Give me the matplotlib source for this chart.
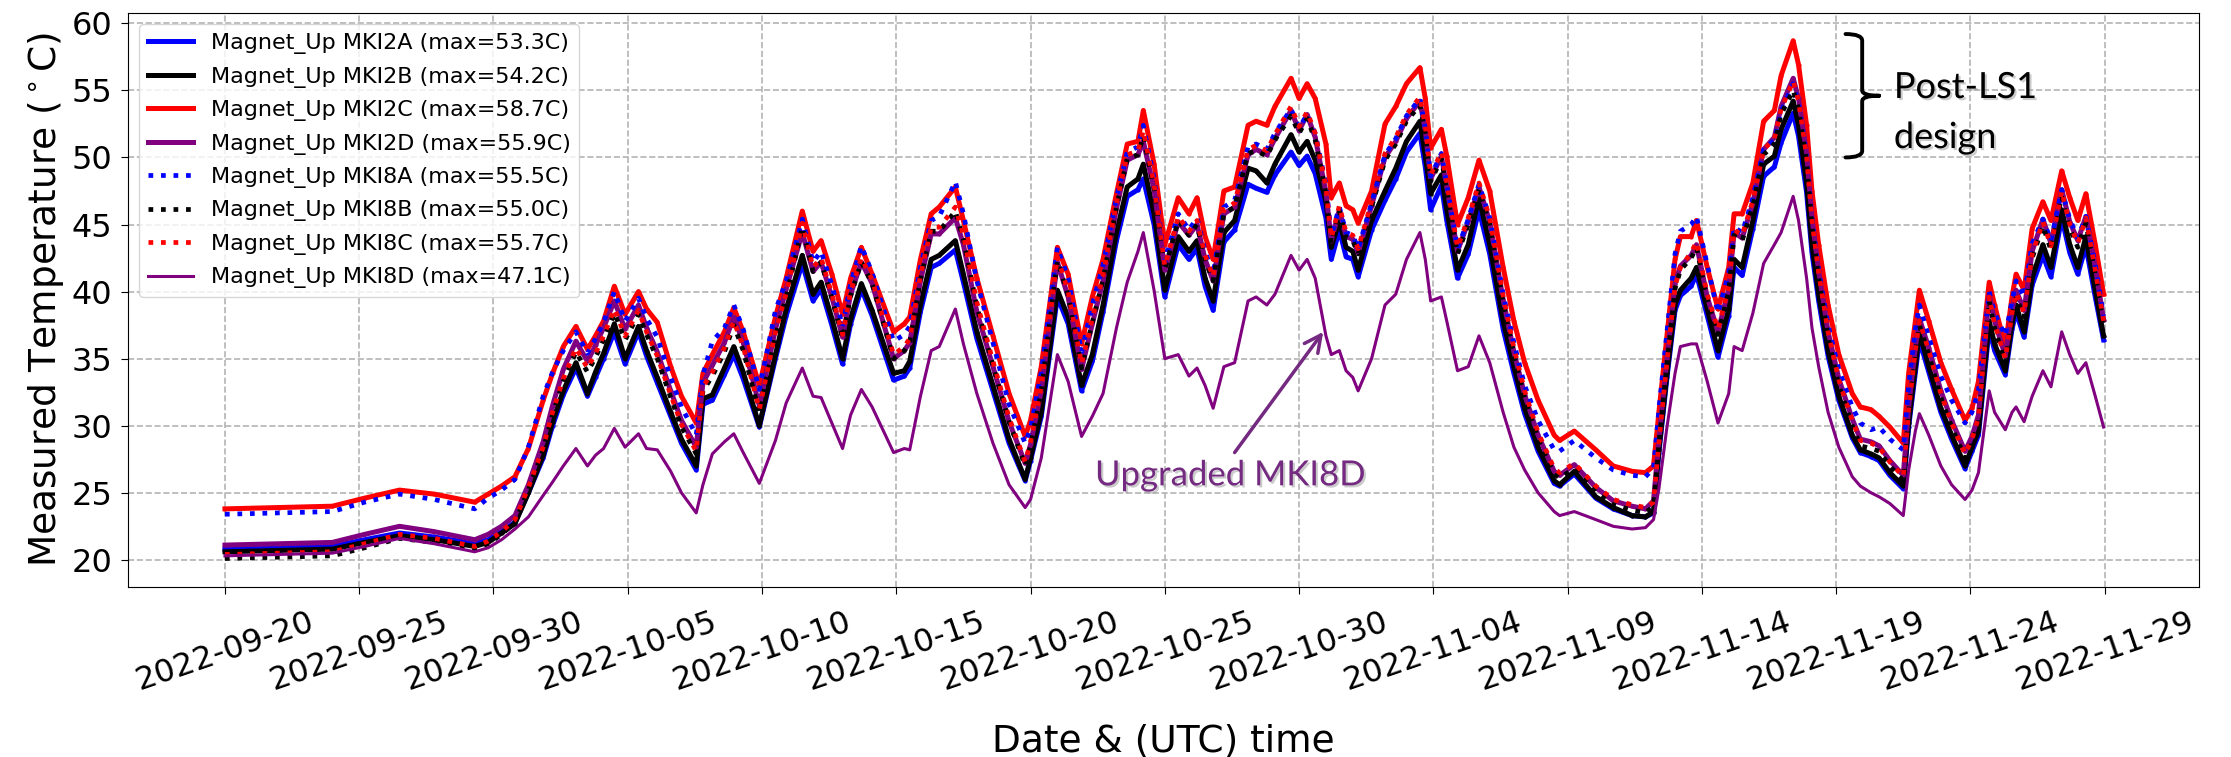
import matplotlib
matplotlib.use("Agg")
import matplotlib.pyplot as plt
import matplotlib.dates as mdates
import matplotlib.patheffects as pe
from matplotlib.path import Path
from matplotlib.patches import PathPatch
import pandas as pd

# Magnet temperatures, sampled at days since 2022-09-20 00:00 UTC
start = pd.Timestamp("2022-09-20")

days = [
    0, 2, 4, 5.2, 6.5, 7.8, 9.3, 9.8, 10.3, 10.8,
    11.3, 11.85, 12.2, 12.6, 13.07, 13.5, 13.8, 14.1, 14.5, 14.9,
    15.4, 15.7, 16.1, 16.6, 17.0, 17.55, 17.8, 18.15, 18.6, 18.95,
    19.3, 19.9, 20.5, 20.9, 21.5, 21.9, 22.2, 22.6, 23.0, 23.3,
    23.7, 24.1, 24.9, 25.3, 25.5, 25.9, 26.3, 26.6, 27.2, 27.5,
    28.0, 28.6, 29.2, 29.8, 30.0, 30.4, 31.0, 31.4, 31.9, 32.3,
    32.7, 33.2, 33.6, 34.0, 34.2, 34.6, 35.0, 35.5, 35.9, 36.2,
    36.5, 36.8, 37.2, 37.6, 38.1, 38.4, 38.8, 39.1, 39.7, 40.0,
    40.3, 40.6, 41.0, 41.2, 41.5, 41.75, 42.0, 42.2, 42.7, 43.2,
    43.6, 44.0, 44.5, 44.7, 44.9, 45.3, 45.5, 45.9, 46.3, 46.7,
    47.1, 47.6, 48.0, 48.4, 48.9, 49.5, 49.7, 50.25, 51.05, 51.7,
    52.4, 52.9, 53.2, 53.4, 53.7, 54.0, 54.2, 54.6, 54.8, 55.2,
    55.6, 56.0, 56.2, 56.5, 56.9, 57.3, 57.7, 57.95, 58.4, 58.6,
    58.9, 59.1, 59.35, 59.7, 60.1, 60.6, 60.9, 61.3, 61.6, 62.0,
    62.5, 62.7, 62.95, 63.1, 63.45, 63.9, 64.3, 64.8, 65.06, 65.3,
    65.7, 65.9, 66.3, 66.55, 66.7, 67.0, 67.3, 67.7, 68.0, 68.4,
    68.7, 69.0, 69.3, 69.65, 69.96,
]

mki2a = [
    20.8, 20.9, 21.0, 21.5, 22.0, 21.7, 21.2, 21.5, 22.1, 22.8,
    25.0, 27.6, 30.0, 32.3, 34.3, 32.2, 33.6, 35.0, 37.0, 34.6,
    37.0, 35.2, 33.2, 30.7, 28.7, 26.7, 31.6, 31.9, 33.8, 35.3,
    33.5, 29.9, 35.0, 38.2, 42.1, 39.3, 40.2, 37.5, 34.6, 37.6,
    40.2, 38.2, 33.4, 33.7, 34.3, 38.5, 41.8, 42.1, 43.1, 40.7,
    36.5, 32.6, 28.7, 25.9, 27.4, 30.7, 39.6, 37.6, 32.6, 34.8,
    38.5, 43.8, 47.1, 47.6, 48.4, 45.0, 39.6, 43.5, 42.4, 43.2,
    40.4, 38.6, 43.7, 44.6, 48.0, 47.7, 47.4, 48.7, 50.4, 49.4,
    50.1, 48.8, 45.5, 42.4, 44.6, 42.6, 42.4, 41.1, 44.6, 46.8,
    48.4, 50.4, 51.8, 49.3, 46.1, 47.9, 45.3, 41.0, 42.8, 46.1,
    42.8, 37.2, 33.9, 30.9, 28.1, 25.7, 25.5, 26.4, 24.6, 23.8,
    23.3, 23.2, 23.5, 28.0, 33.6, 38.6, 39.7, 40.4, 41.3, 38.2,
    35.1, 38.2, 41.8, 41.2, 44.7, 48.6, 49.3, 51.1, 53.3, 51.6,
    47.4, 42.9, 39.3, 35.2, 31.9, 29.1, 28.0, 27.7, 27.4, 26.3,
    25.3, 29.9, 34.0, 36.4, 34.0, 31.0, 29.0, 26.8, 28.1, 29.3,
    37.3, 35.6, 33.8, 37.2, 38.5, 36.6, 40.5, 42.7, 41.1, 45.5,
    42.9, 41.3, 43.4, 39.6, 36.4,
]

mki2b = [
    20.6, 20.7, 20.8, 21.3, 21.8, 21.5, 21.0, 21.3, 22.0, 22.7,
    25.0, 27.8, 30.3, 32.6, 34.7, 32.4, 34.0, 35.4, 37.6, 35.0,
    37.4, 35.6, 33.6, 31.0, 29.0, 27.0, 32.0, 32.3, 34.3, 35.9,
    34.0, 30.0, 35.3, 38.7, 42.7, 39.8, 40.7, 38.0, 35.0, 38.0,
    40.6, 38.6, 33.9, 34.1, 34.8, 39.0, 42.4, 42.7, 43.8, 41.3,
    37.0, 33.0, 29.0, 26.0, 27.6, 31.0, 40.1, 38.1, 33.0, 35.3,
    39.0, 44.4, 47.8, 48.4, 49.5, 45.8, 40.1, 44.1, 43.0, 43.8,
    41.0, 39.3, 44.4, 45.3, 49.2, 49.0, 48.1, 49.5, 51.7, 50.4,
    51.2, 49.8, 46.7, 43.3, 45.3, 43.3, 43.0, 41.6, 45.3, 47.5,
    49.2, 51.2, 52.7, 50.1, 47.3, 48.7, 46.1, 41.6, 43.5, 47.0,
    43.5, 37.8, 34.4, 31.3, 28.4, 25.9, 25.6, 26.6, 24.7, 23.9,
    23.3, 23.2, 23.6, 28.2, 33.9, 39.0, 40.1, 41.0, 41.8, 38.7,
    35.6, 38.7, 42.4, 41.8, 45.3, 49.5, 50.1, 52.1, 54.2, 52.4,
    48.1, 43.5, 39.8, 35.6, 32.2, 29.3, 28.2, 27.9, 27.6, 26.5,
    25.5, 30.2, 34.4, 37.0, 34.4, 31.3, 29.3, 27.0, 28.4, 29.6,
    37.8, 36.1, 34.1, 37.6, 39.0, 37.0, 41.0, 43.5, 41.8, 46.1,
    43.5, 41.8, 44.1, 40.1, 36.7,
]

mki2c = [
    23.8, 23.9, 24.0, 24.6, 25.2, 24.9, 24.3, 24.9, 25.5, 26.2,
    28.3, 31.9, 33.9, 35.9, 37.4, 35.7, 36.7, 37.8, 40.4, 38.3,
    40.0, 38.7, 37.7, 34.4, 32.2, 30.2, 33.9, 35.3, 37.0, 38.8,
    37.0, 33.0, 38.1, 41.0, 46.0, 43.0, 43.8, 41.3, 38.3, 41.0,
    43.3, 41.3, 37.0, 37.6, 38.1, 42.4, 45.8, 46.3, 47.8, 45.3,
    41.0, 36.7, 32.4, 29.2, 30.4, 34.4, 43.3, 41.3, 36.1, 39.6,
    42.4, 47.3, 51.0, 51.2, 53.5, 49.5, 43.5, 47.0, 45.8, 47.0,
    44.1, 42.4, 47.5, 47.8, 52.4, 52.7, 52.4, 53.8, 55.9, 54.4,
    55.5, 54.4, 51.0, 47.0, 48.1, 46.4, 46.1, 45.1, 47.5, 52.5,
    53.8, 55.5, 56.7, 54.4, 50.7, 52.1, 50.1, 45.0, 47.0, 49.8,
    47.5, 41.8, 37.8, 34.7, 31.9, 29.3, 28.9, 29.6, 28.2, 27.0,
    26.6, 26.5, 27.0, 31.0, 36.7, 42.4, 44.1, 44.1, 45.3, 41.8,
    38.7, 41.8, 45.8, 45.8, 48.1, 52.7, 53.5, 56.1, 58.7, 56.9,
    52.4, 47.5, 43.5, 39.0, 35.3, 32.4, 31.4, 31.2, 30.7, 29.9,
    28.7, 33.9, 37.8, 40.1, 37.8, 34.7, 32.7, 30.4, 31.3, 33.3,
    40.7, 39.0, 35.9, 39.6, 41.3, 40.1, 44.7, 46.7, 45.3, 49.0,
    47.0, 45.3, 47.3, 43.5, 39.8,
]

mki2d = [
    21.1, 21.2, 21.3, 21.9, 22.5, 22.1, 21.5, 21.9, 22.5, 23.3,
    25.6, 28.8, 31.5, 34.2, 36.3, 34.8, 36.0, 37.3, 39.3, 37.2,
    39.0, 37.3, 35.5, 32.6, 30.4, 28.4, 33.2, 34.5, 36.2, 38.1,
    36.2, 31.5, 37.2, 40.2, 44.4, 41.5, 42.2, 39.6, 36.6, 39.8,
    42.2, 40.6, 35.0, 35.6, 36.2, 40.8, 44.3, 44.3, 45.5, 43.5,
    38.5, 34.4, 30.3, 27.2, 28.6, 32.6, 42.2, 39.6, 34.2, 37.6,
    40.8, 46.2, 49.8, 50.2, 51.2, 47.6, 41.6, 45.2, 44.2, 45.0,
    42.4, 40.8, 45.8, 46.3, 50.2, 50.6, 50.2, 51.4, 53.5, 52.0,
    53.2, 51.5, 47.4, 43.8, 46.1, 44.1, 43.9, 42.9, 46.4, 50.0,
    51.2, 52.9, 54.2, 52.0, 48.4, 50.1, 47.8, 43.0, 45.2, 47.8,
    45.2, 39.4, 35.5, 32.3, 29.3, 26.6, 26.3, 27.1, 25.4, 24.4,
    24.0, 23.8, 24.4, 29.0, 35.0, 40.6, 41.9, 42.7, 43.5, 39.6,
    37.0, 40.2, 44.4, 44.0, 46.6, 50.6, 51.5, 53.8, 55.9, 54.4,
    50.3, 45.5, 41.5, 37.0, 33.5, 30.5, 29.0, 28.8, 28.5, 27.4,
    26.3, 31.4, 35.8, 38.0, 35.8, 32.6, 30.4, 28.1, 29.2, 30.8,
    39.8, 37.8, 35.2, 38.6, 40.1, 38.6, 43.0, 45.4, 43.6, 47.6,
    45.2, 43.8, 45.6, 41.8, 37.9,
]

mki8a = [
    23.4, 23.5, 23.6, 24.3, 24.9, 24.5, 23.8, 24.6, 25.2, 26.0,
    28.4, 32.2, 34.0, 35.6, 37.0, 35.4, 36.5, 37.7, 40.0, 37.8,
    39.5, 38.0, 36.6, 33.6, 31.4, 29.3, 33.8, 36.3, 37.3, 39.0,
    37.2, 32.7, 38.6, 40.8, 45.4, 42.2, 43.0, 40.5, 37.4, 40.6,
    43.4, 41.4, 36.3, 36.8, 37.4, 41.8, 45.3, 45.6, 48.2, 45.8,
    40.8, 36.2, 31.6, 28.7, 29.8, 34.0, 43.3, 41.0, 35.5, 39.0,
    42.0, 47.0, 50.4, 50.8, 52.4, 48.4, 42.2, 45.8, 44.6, 45.5,
    43.0, 41.3, 46.3, 46.8, 50.8, 51.0, 50.6, 51.8, 53.6, 52.2,
    53.2, 51.8, 48.0, 44.2, 46.3, 44.4, 44.2, 43.2, 46.6, 50.2,
    51.4, 53.1, 54.4, 52.2, 48.6, 50.3, 48.0, 43.2, 45.4, 48.0,
    45.5, 39.8, 36.2, 33.0, 30.4, 28.2, 28.1, 28.9, 27.6, 26.7,
    26.3, 26.2, 26.8, 31.2, 37.0, 42.8, 44.5, 45.0, 45.6, 42.0,
    38.4, 41.4, 44.8, 44.4, 47.0, 50.6, 51.3, 53.4, 55.5, 54.0,
    50.0, 45.3, 41.6, 37.5, 34.2, 31.4, 30.2, 29.7, 29.9, 29.0,
    28.2, 33.0, 37.2, 39.0, 36.6, 33.7, 31.9, 30.2, 31.0, 32.6,
    40.0, 38.4, 36.7, 39.3, 40.8, 39.6, 43.6, 45.4, 43.8, 47.6,
    45.4, 44.0, 45.6, 42.0, 38.2,
]

mki8b = [
    20.1, 20.2, 20.3, 20.9, 21.6, 21.3, 20.8, 21.2, 21.9, 22.8,
    25.2, 28.2, 30.8, 33.3, 35.5, 34.0, 35.1, 36.4, 38.4, 36.4,
    38.3, 36.8, 35.0, 32.1, 29.9, 27.9, 32.6, 33.7, 35.5, 37.5,
    35.6, 31.0, 36.7, 39.6, 44.8, 41.5, 42.2, 39.5, 36.5, 39.7,
    42.2, 40.6, 35.0, 35.6, 36.2, 40.9, 44.5, 44.5, 46.0, 43.9,
    38.9, 34.5, 30.3, 27.0, 28.5, 32.6, 42.3, 39.7, 34.3, 37.7,
    40.9, 46.3, 49.9, 50.2, 51.6, 47.7, 41.6, 45.3, 44.2, 45.0,
    42.4, 40.8, 45.8, 46.3, 50.3, 50.5, 50.1, 51.3, 53.1, 51.8,
    52.9, 51.3, 47.3, 43.6, 46.0, 44.0, 43.8, 42.8, 46.3, 49.8,
    51.0, 52.7, 53.9, 51.8, 48.2, 49.9, 47.6, 42.8, 45.0, 47.6,
    45.0, 39.2, 35.3, 32.1, 29.0, 26.4, 26.1, 26.8, 25.1, 24.1,
    23.7, 23.5, 24.0, 28.6, 34.6, 40.2, 41.6, 42.5, 43.3, 39.4,
    36.8, 40.0, 44.2, 43.8, 46.4, 50.2, 51.0, 53.2, 55.0, 53.6,
    49.7, 44.9, 41.0, 36.6, 33.0, 30.0, 28.5, 28.3, 28.1, 27.0,
    25.9, 30.9, 35.3, 37.5, 35.3, 32.1, 29.9, 27.6, 28.7, 30.3,
    39.3, 37.3, 34.7, 38.1, 39.6, 38.1, 42.5, 44.9, 43.1, 47.1,
    44.7, 43.3, 45.1, 41.3, 37.5,
]

mki8c = [
    20.4, 20.5, 20.6, 21.2, 21.9, 21.6, 21.0, 21.4, 22.1, 23.0,
    25.4, 28.4, 31.0, 33.5, 35.8, 34.3, 35.4, 36.7, 38.7, 36.7,
    38.6, 37.0, 35.2, 32.3, 30.1, 28.1, 32.9, 34.0, 35.8, 37.8,
    35.9, 31.2, 37.0, 39.9, 45.1, 41.8, 42.5, 39.8, 36.8, 40.0,
    42.5, 40.9, 35.3, 35.9, 36.5, 41.2, 44.8, 44.8, 46.3, 44.2,
    39.2, 34.8, 30.6, 27.3, 28.8, 32.9, 42.6, 40.0, 34.6, 38.0,
    41.2, 46.6, 50.2, 50.5, 52.0, 48.0, 41.9, 45.6, 44.5, 45.3,
    42.7, 41.1, 46.1, 46.6, 50.6, 50.9, 50.5, 51.7, 53.8, 52.3,
    53.4, 51.8, 47.8, 44.0, 46.4, 44.4, 44.2, 43.2, 46.7, 50.3,
    51.5, 53.2, 54.5, 52.3, 48.7, 50.4, 48.1, 43.3, 45.5, 48.1,
    45.5, 39.7, 35.8, 32.6, 29.5, 26.8, 26.5, 27.2, 25.5, 24.5,
    24.1, 23.9, 24.3, 28.8, 34.8, 40.4, 41.8, 42.9, 43.7, 39.8,
    37.2, 40.4, 44.6, 44.2, 46.8, 50.6, 51.4, 53.6, 55.7, 54.2,
    50.1, 45.3, 41.4, 37.0, 33.4, 30.4, 28.9, 28.7, 28.4, 27.3,
    26.2, 31.2, 35.6, 37.8, 35.6, 32.4, 30.2, 27.9, 29.0, 30.6,
    39.6, 37.6, 35.0, 38.4, 39.9, 38.4, 42.8, 45.2, 43.4, 47.5,
    45.0, 43.6, 45.5, 41.6, 37.8,
]

mki8d = [
    20.3, 20.4, 20.5, 21.0, 21.6, 21.2, 20.6, 20.9, 21.5, 22.3,
    23.2, 24.8, 25.8, 27.0, 28.3, 27.0, 27.8, 28.3, 29.8, 28.4,
    29.4, 28.3, 28.2, 26.6, 25.0, 23.5, 25.6, 27.9, 28.8, 29.4,
    28.0, 25.7, 28.9, 31.7, 34.3, 32.2, 32.1, 30.2, 28.3, 30.8,
    32.7, 31.4, 28.0, 28.3, 28.2, 32.2, 35.6, 35.9, 38.7, 36.1,
    32.4, 28.7, 25.6, 23.9, 24.5, 27.6, 35.3, 33.3, 29.2, 30.7,
    32.4, 37.3, 40.7, 43.0, 44.4, 40.1, 35.0, 35.3, 33.7, 34.3,
    33.0, 31.3, 34.4, 34.7, 39.3, 39.6, 39.0, 39.8, 42.7, 41.6,
    42.4, 41.0, 36.7, 35.3, 35.6, 34.1, 33.6, 32.6, 35.0, 39.0,
    39.8, 42.4, 44.4, 42.4, 39.3, 39.6, 37.8, 34.1, 34.4, 36.7,
    34.7, 31.0, 28.4, 26.7, 25.0, 23.6, 23.3, 23.6, 23.0, 22.5,
    22.3, 22.4, 23.0, 25.3, 29.9, 33.9, 35.9, 36.1, 36.1, 33.3,
    30.2, 32.4, 35.9, 35.6, 38.4, 42.1, 43.5, 44.4, 47.1, 45.3,
    41.0, 37.3, 34.4, 31.0, 28.4, 26.2, 25.5, 25.0, 24.7, 24.2,
    23.3, 26.7, 29.6, 30.9, 29.3, 27.0, 25.6, 24.5, 25.2, 26.5,
    32.6, 31.0, 29.7, 31.0, 31.4, 30.3, 32.2, 34.1, 32.9, 37.0,
    35.3, 33.9, 34.7, 32.2, 29.9,
]

names = ["MKI2A", "MKI2B", "MKI2C", "MKI2D", "MKI8A", "MKI8B", "MKI8C", "MKI8D"]
values = [mki2a, mki2b, mki2c, mki2d, mki8a, mki8b, mki8c, mki8d]
colors = ["blue", "black", "red", "purple", "blue", "black", "red", "purple"]
styles = ["-", "-", "-", "-", ":", ":", ":", "-"]
markers = [".", ".", ".", ".", None, None, None, None]
widths = [3.6, 3.6, 3.6, 3.6, 3.4, 3.4, 3.4, 2.2]

note_color = "#742a80"


def day_num(d):
    return mdates.date2num(start + pd.Timedelta(days=d))


t = start + pd.to_timedelta(days, unit="D")

fig = plt.figure(figsize=(22.31, 7.57), dpi=100)
ax = fig.add_axes([0.0575, 0.225, 0.928, 0.7575])

for name, v, c, ls, mk, lw in zip(names, values, colors, styles, markers, widths):
    ax.plot(t, v, color=c, linestyle=ls, marker=mk, markersize=4, lw=lw,
            solid_joinstyle="round",
            label=f"Magnet_Up {name} (max={max(v):.1f}C)")

ax.set_xlim(day_num(-3.6), day_num(73.5))
ax.set_ylim(18.0, 60.75)
ax.set_yticks(range(20, 61, 5))
ax.set_xticks(pd.date_range("2022-09-20", "2022-11-29", freq="5D"))
ax.xaxis.set_major_formatter(mdates.DateFormatter("%Y-%m-%d"))
ax.tick_params(axis="both", labelsize=23, length=5.3)
ax.tick_params(axis="x", pad=9)
ax.tick_params(axis="y", pad=6)
for lab in ax.get_xticklabels():
    lab.set_rotation(19)
    lab.set_ha("center")

ax.set_axisbelow(True)
ax.grid(True, linestyle="--", color="#b4b4b4", lw=1.2)
ax.set_xlabel("Date & (UTC) time", fontsize=27, labelpad=19)
ax.set_ylabel(r"Measured Temperature ($^\circ$C)", fontsize=27, labelpad=4)

ax.legend(loc="upper left", fontsize=16, labelspacing=0.56)

# annotation for the upgraded magnet
shadow = [pe.withSimplePatchShadow(offset=(1.5, -1.5), shadow_rgbFace="#999999", alpha=0.5)]
ax.text(day_num(32.4), 26.3, "Upgraded MKI8D", color=note_color, fontsize=25,
        family="Lato", ha="left", va="center", path_effects=shadow)
ax.annotate("", xy=(day_num(40.9), 37.0), xytext=(day_num(37.6), 28.0),
            arrowprops=dict(arrowstyle="->", color=note_color, lw=2.5,
                            mutation_scale=30, shrinkA=0, shrinkB=0))

# curly bracket grouping the post-LS1 magnets
xb, xl, xn = day_num(60.97), day_num(60.35), day_num(61.6)
verts = [
    (xl, 59.2), (xb, 59.2), (xb, 58.7), (xb, 55.0), (xb, 54.6), (xn, 54.6),
    (xn, 54.6), (xb, 54.6), (xb, 54.2), (xb, 50.5), (xb, 50.0), (xl, 50.0),
]
codes = [
    Path.MOVETO, Path.CURVE3, Path.CURVE3, Path.LINETO, Path.CURVE3, Path.CURVE3,
    Path.MOVETO, Path.CURVE3, Path.CURVE3, Path.LINETO, Path.CURVE3, Path.CURVE3,
]
ax.add_patch(PathPatch(Path(verts, codes), facecolor="none", edgecolor="black",
                       lw=2.8, capstyle="round"))
ax.text(day_num(62.15), 54.43, "Post-LS1", fontsize=26, family="Lato",
        va="baseline", ha="left", path_effects=shadow)
ax.text(day_num(62.15), 50.7, "design", fontsize=26, family="Lato",
        va="baseline", ha="left", path_effects=shadow)

fig.savefig("out.png", dpi=100)
